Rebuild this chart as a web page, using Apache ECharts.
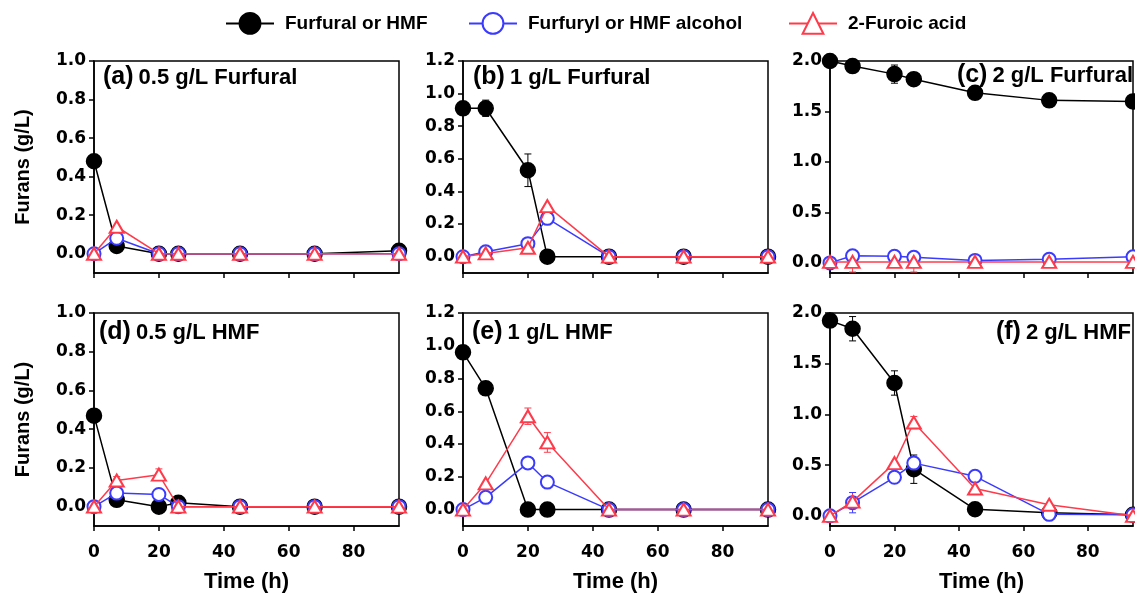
<!DOCTYPE html>
<html>
<head>
<meta charset="utf-8">
<script src="https://cdn.jsdelivr.net/npm/echarts@6/dist/echarts.min.js"></script>
<style>
  html, body { margin: 0; padding: 0; background: #fff; }
  #chart { width: 1135px; height: 594px; }
</style>
</head>
<body>
<div id="chart"></div>
<script>
var time = [0, 7, 20, 26, 45, 68, 94];
var xTicks = [0, 20, 40, 60, 80];
var yTicks1 = [0, 0.2, 0.4, 0.6, 0.8, 1.0];
var yTicks12 = [0, 0.2, 0.4, 0.6, 0.8, 1.0, 1.2];
var yTicks2 = [0, 0.5, 1.0, 1.5, 2.0];
var names = ['Furfural or HMF', 'Furfuryl or HMF alcohol', '2-Furoic acid'];
var colors = ['#000000', '#3b3bff', '#ff3b4b'];

// (a) 0.5 g/L Furfural
var aFuran = [0.48, 0.04, 0, 0, 0, 0, 0.015];
var aAlcohol = [0, 0.08, 0, 0, 0, 0, 0];
var aAcid = [0, 0.14, 0, 0, 0, 0, 0];
var aErr = [];
// (b) 1 g/L Furfural
var bFuran = [0.91, 0.91, 0.53, 0, 0, 0, 0];
var bAlcohol = [0, 0.03, 0.08, 0.235, 0, 0, 0];
var bAcid = [0, 0.02, 0.055, 0.31, 0, 0, 0];
var bErr = [[7, 0.91, 0.05, 0], [20, 0.53, 0.1, 0], [26, 0, 0.03, 0]];
// (c) 2 g/L Furfural
var cFuran = [2.0, 1.95, 1.87, 1.82, 1.685, 1.61, 1.60];
var cAlcohol = [0, 0.07, 0.065, 0.055, 0.025, 0.035, 0.06];
var cAcid = [0.01, 0.01, 0.01, 0.01, 0.01, 0.01, 0.01];
var cErr = [[20, 1.87, 0.09, 0], [7, 0.01, 0.1, 2], [26, 0.01, 0.1, 2]];
// (d) 0.5 g/L HMF
var dFuran = [0.47, 0.035, 0, 0.02, 0, 0, 0];
var dAlcohol = [0, 0.07, 0.063, 0, 0, 0, 0];
var dAcid = [0, 0.135, 0.165, 0, 0, 0, 0];
var dErr = [[20, 0.165, 0.03, 2], [7, 0.135, 0.02, 2]];
// (e) 1 g/L HMF
var eFuran = [0.96, 0.74, 0, 0, 0, 0, 0];
var eAlcohol = [0, 0.075, 0.285, 0.168, 0, 0, 0];
var eAcid = [0, 0.16, 0.57, 0.41, 0, 0, 0];
var eErr = [[7, 0.74, 0.04, 0], [20, 0.57, 0.05, 2], [26, 0.41, 0.06, 2]];
// (f) 2 g/L HMF
var fFuran = [1.925, 1.845, 1.31, 0.46, 0.065, 0.03, 0.01];
var fAlcohol = [0, 0.13, 0.38, 0.52, 0.39, 0.015, 0.01];
var fAcid = [0, 0.14, 0.52, 0.92, 0.27, 0.11, 0];
var fErr = [[7, 1.845, 0.12, 0], [20, 1.31, 0.12, 0], [26, 0.46, 0.14, 0], [7, 0.13, 0.1, 1], [26, 0.92, 0.06, 2]];

var panels = [
  { tag: '(a)', label: '0.5 g/L Furfural', data: [aFuran, aAlcohol, aAcid], err: aErr, ymax: 1.0, ticks: yTicks1 },
  { tag: '(b)', label: '1 g/L Furfural', data: [bFuran, bAlcohol, bAcid], err: bErr, ymax: 1.2, ticks: yTicks12 },
  { tag: '(c)', label: '2 g/L Furfural', data: [cFuran, cAlcohol, cAcid], err: cErr, ymax: 2.0, ticks: yTicks2 },
  { tag: '(d)', label: '0.5 g/L HMF', data: [dFuran, dAlcohol, dAcid], err: dErr, ymax: 1.0, ticks: yTicks1 },
  { tag: '(e)', label: '1 g/L HMF', data: [eFuran, eAlcohol, eAcid], err: eErr, ymax: 1.2, ticks: yTicks12 },
  { tag: '(f)', label: '2 g/L HMF', data: [fFuran, fAlcohol, fAcid], err: fErr, ymax: 2.0, ticks: yTicks2 }
];

var lefts = [94, 463, 830];
var tops = [61, 313];
var heights = [212, 213];
var labelPos = [
  { left: 103, top: 65 }, { left: 473, top: 65 }, { right: 2, top: 63 },
  { left: 99, top: 320 }, { left: 472, top: 320 }, { right: 4, top: 320 }
];

var font = 'Liberation Sans';
var tickFamily = 'DejaVu Sans';
var symbols = ['circle', 'emptyCircle', 'emptyTriangle'];
var symbolSizes = [15, 13, [14, 12]];

function renderErr(params, api) {
  var t = api.value(0), v = api.value(1), e = api.value(2), k = api.value(3);
  var hi = api.coord([t, v + e]);
  var lo = api.coord([t, v - e]);
  var st = { stroke: colors[k], lineWidth: 1 };
  var w = 3.5;
  return {
    type: 'group',
    children: [
      { type: 'line', shape: { x1: hi[0], y1: hi[1], x2: lo[0], y2: lo[1] }, style: st },
      { type: 'line', shape: { x1: hi[0] - w, y1: hi[1], x2: hi[0] + w, y2: hi[1] }, style: st },
      { type: 'line', shape: { x1: lo[0] - w, y1: lo[1], x2: lo[0] + w, y2: lo[1] }, style: st }
    ]
  };
}

var grid = [], xAxis = [], yAxis = [], series = [], title = [];

panels.forEach(function (p, i) {
  var row = Math.floor(i / 3), col = i % 3;
  grid.push({
    left: lefts[col], top: tops[row], width: col === 2 ? 303 : 305, height: heights[row],
    show: true, borderColor: '#000', borderWidth: 1.5, backgroundColor: 'transparent',
    outerBoundsMode: 'none'
  });
  xAxis.push({
    gridIndex: i, type: 'value', min: 0, max: 94,
    name: row === 1 ? 'Time (h)' : '', nameLocation: 'middle', nameGap: 45,
    nameTextStyle: { fontFamily: font, fontWeight: 'bold', fontSize: 22, color: '#000' },
    axisLine: { show: true, onZero: false, lineStyle: { color: '#000', width: 1.5 } },
    axisTick: { show: true, customValues: xTicks, length: 5, lineStyle: { color: '#000', width: 1.5 } },
    axisLabel: { show: row === 1, customValues: xTicks, margin: 18, fontFamily: tickFamily,
      fontWeight: 'bold', fontSize: 17, color: '#000' },
    splitLine: { show: false }
  });
  yAxis.push({
    gridIndex: i, type: 'value', min: -0.1, max: p.ymax,
    name: col === 0 ? 'Furans (g/L)' : '', nameLocation: 'middle', nameGap: 61,
    nameTextStyle: { fontFamily: font, fontWeight: 'bold', fontSize: 20, color: '#000' },
    axisLine: { show: true, onZero: false, lineStyle: { color: '#000', width: 1.5 } },
    axisTick: { show: true, customValues: p.ticks, length: 5, lineStyle: { color: '#000', width: 1.5 } },
    axisLabel: { customValues: p.ticks, margin: 8, fontFamily: tickFamily, fontWeight: 'bold',
      fontSize: 17, color: '#000', formatter: function (v) { return v.toFixed(1); } },
    splitLine: { show: false }
  });
  series.push({
    type: 'custom', xAxisIndex: i, yAxisIndex: i, z: 1, clip: false,
    encode: { x: 0, y: 1 }, data: p.err, renderItem: renderErr, silent: true
  });
  p.data.forEach(function (vals, k) {
    series.push({
      name: names[k], type: 'line', xAxisIndex: i, yAxisIndex: i, z: 2 + k,
      data: time.map(function (t, j) { return [t, vals[j]]; }),
      symbol: symbols[k], symbolSize: symbolSizes[k], showAllSymbol: true,
      lineStyle: { color: colors[k], width: 1.5 },
      itemStyle: { color: colors[k], borderColor: colors[k], borderWidth: 1.5 },
      animation: false
    });
  });
  var pos = labelPos[i];
  title.push(Object.assign({
    text: '{p|' + p.tag + '} {t|' + p.label + '}', padding: 0,
    textStyle: {
      rich: {
        p: { fontFamily: font, fontWeight: 'bold', fontSize: 25, color: '#000' },
        t: { fontFamily: font, fontWeight: 'bold', fontSize: 22, color: '#000' }
      }
    }
  }, pos));
});

var legendLefts = [225, 468, 788];
var legend = names.map(function (n, k) {
  return {
    data: [n], left: legendLefts[k], top: 12, padding: 0,
    itemWidth: 48, itemHeight: 26,
    textStyle: { fontFamily: font, fontWeight: 'bold', fontSize: 19, color: '#000', padding: [0, 0, 0, 6] }
  };
});

var chart = echarts.init(document.getElementById('chart'));
chart.setOption({
  animation: false,
  backgroundColor: '#fff',
  title: title,
  legend: legend,
  grid: grid,
  xAxis: xAxis,
  yAxis: yAxis,
  series: series
});
</script>
</body>
</html>
